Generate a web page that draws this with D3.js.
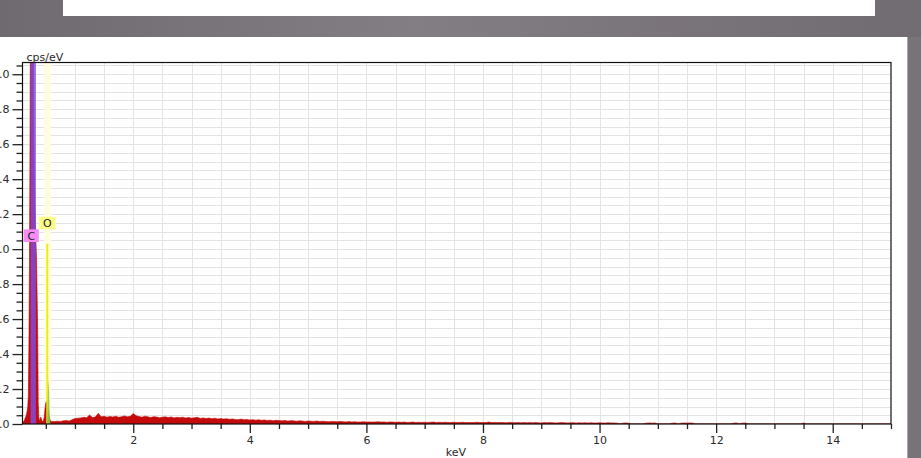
<!DOCTYPE html>
<html>
<head>
<meta charset="utf-8">
<script src="https://cdn.jsdelivr.net/npm/d3@7"></script>
<style>
  html, body { margin: 0; padding: 0; background: #777278; overflow: hidden; }
  svg { display: block; font-family: "DejaVu Sans", sans-serif; }
</style>
</head>
<body>
<svg id="chart" width="921" height="458"></svg>
<script>
// ---- Spectrum data (cps/eV) ----
// Low-energy channels around the C and O peaks, 0.01 keV apart, starting at 0.10 keV
const lowStartKeV = 0.10;
const lowStepKeV = 0.01;
const lowEnergyCounts = [
  0.010, 0.012, 0.015, 0.020, 0.028, 0.038, 0.045, 0.058, 0.075, 0.100,
  0.160, 0.450, 0.950, 1.700, 2.800, 4.200, 5.100, 4.800, 3.200, 1.900,
  1.550, 1.300, 1.150, 1.050, 0.950, 0.750, 0.550, 0.120, 0.040, 0.020,
  0.025, 0.040, 0.035, 0.020, 0.015, 0.016, 0.022, 0.035, 0.065, 0.100,
  0.122, 0.128, 0.118, 0.098, 0.078, 0.058, 0.040, 0.026, 0.018, 0.015
];

// Continuum channels, 0.05 keV apart, starting at 0.60 keV
const contStartKeV = 0.60;
const contStepKeV = 0.05;
const continuumCounts = [
  0.015, 0.014, 0.016, 0.015, 0.018, 0.020, 0.017, 0.024, 0.031, 0.033,
  0.035, 0.038, 0.036, 0.051, 0.037, 0.040, 0.061, 0.041, 0.044, 0.039,
  0.043, 0.040, 0.045, 0.038, 0.042, 0.046, 0.041, 0.044, 0.060, 0.047,
  0.043, 0.039, 0.045, 0.041, 0.037, 0.042, 0.040, 0.036, 0.039, 0.041,
  0.037, 0.040, 0.035, 0.038, 0.036, 0.039, 0.034, 0.037, 0.033, 0.036,
  0.038, 0.032, 0.035, 0.031, 0.034, 0.030, 0.033, 0.029, 0.031, 0.028,
  0.030, 0.027, 0.029, 0.026, 0.025, 0.028, 0.024, 0.026, 0.023, 0.025,
  0.022, 0.024, 0.021, 0.023, 0.020, 0.022, 0.019, 0.021, 0.020, 0.018,
  0.020, 0.017, 0.019, 0.018, 0.016, 0.018, 0.017, 0.015, 0.017, 0.016,
  0.015, 0.017, 0.014, 0.016, 0.015, 0.013, 0.015, 0.014, 0.013, 0.015,
  0.013, 0.012, 0.014, 0.012, 0.013, 0.011, 0.012, 0.013, 0.011, 0.012,
  0.011, 0.012, 0.013, 0.011, 0.012, 0.010, 0.012, 0.011, 0.010, 0.011,
  0.010, 0.011, 0.009, 0.010, 0.011, 0.009, 0.010, 0.009, 0.010, 0.009,
  0.010, 0.011, 0.009, 0.010, 0.009, 0.010, 0.009, 0.008, 0.010, 0.009,
  0.009, 0.010, 0.008, 0.009, 0.008, 0.009, 0.010, 0.008, 0.009, 0.008,
  0.011, 0.008, 0.009, 0.008, 0.009, 0.008, 0.007, 0.009, 0.008, 0.007,
  0.008, 0.007, 0.008, 0.007, 0.008, 0.007, 0.008, 0.007, 0.006, 0.008,
  0.007, 0.008, 0.007, 0.006, 0.007, 0.008, 0.007, 0.006, 0.007, 0.007,
  0.006, 0.007, 0.006, 0.007, 0.006, 0.007, 0.006, 0.006, 0.007, 0.006,
  0.006, 0.007, 0.006, 0.006, 0.005, 0.000, 0.005, 0.006, 0.005, 0.000,
  0.000, 0.000, 0.000, 0.000, 0.005, 0.006, 0.005, 0.006, 0.000, 0.000,
  0.000, 0.000, 0.000, 0.005, 0.006, 0.000, 0.005, 0.006, 0.005, 0.006,
  0.005, 0.000, 0.000, 0.000, 0.000, 0.000, 0.000, 0.000, 0.000, 0.000,
  0.000, 0.000, 0.000, 0.000, 0.005, 0.006, 0.000, 0.005, 0.006, 0.000,
  0.000, 0.000, 0.000, 0.000, 0.000, 0.000, 0.000, 0.000, 0.000, 0.000,
  0.000, 0.000, 0.000, 0.000, 0.000, 0.000, 0.000, 0.000, 0.006, 0.000,
  0.000, 0.000, 0.000, 0.000, 0.000, 0.000, 0.000, 0.000, 0.000, 0.000,
  0.000, 0.000, 0.000, 0.000, 0.000, 0.000, 0.000, 0.000, 0.000, 0.000,
  0.000, 0.000, 0.000, 0.000, 0.000, 0.000, 0.000, 0.000, 0.000
];

// O K-alpha fitted profile, 0.01 keV apart, starting at 0.51 keV
const oFitStartKeV = 0.51;
const oFitCounts = [0.000, 0.020, 0.100, 0.200, 0.255, 0.120, 0.030, 0.000];

// Identified element lines
const elementSymbols = ["C", "O"];
const elementEnergies = [0.277, 0.525];      // keV
const elementLineHeights = [5.1, 1.03];      // cps/eV
const elementLabelLevels = [1.113, 1.185];   // cps/eV, top edge of each tag

// Axis ticks
const xMajorTicks = [2, 4, 6, 8, 10, 12, 14];
const yMajorTicks = [0, 0.2, 0.4, 0.6, 0.8, 1.0, 1.2, 1.4, 1.6, 1.8, 2.0];
const xDomain = [0.1, 15];
const yDomain = [0, 2.07];

// ---- Layout ----
const W = 921, H = 458;
const plot = { left: 22.5, right: 891, top: 62, bottom: 424 };

const svg = d3.select("#chart");

// Window chrome around the chart panel
const defs = svg.append("defs");
const grad = defs.append("linearGradient").attr("id", "bandGrad")
  .attr("x1", "0").attr("x2", "1").attr("y1", "0").attr("y2", "0");
grad.append("stop").attr("offset", "0").attr("stop-color", "#6f6a70");
grad.append("stop").attr("offset", "0.45").attr("stop-color", "#837e83");
grad.append("stop").attr("offset", "1").attr("stop-color", "#716b72");

svg.append("rect").attr("x", 0).attr("y", 0).attr("width", W).attr("height", H).attr("fill", "#787379");
svg.append("rect").attr("x", 0).attr("y", 0).attr("width", W).attr("height", 37).attr("fill", "url(#bandGrad)");
svg.append("rect").attr("x", 63).attr("y", 0).attr("width", 812).attr("height", 16).attr("fill", "#ffffff");
svg.append("rect").attr("x", 0).attr("y", 37).attr("width", 907).attr("height", H - 37).attr("fill", "#ffffff");
svg.append("line").attr("x1", 907.5).attr("x2", 907.5).attr("y1", 37).attr("y2", H)
  .attr("stroke", "#a9a5a9").attr("stroke-width", 1);

// ---- Scales ----
const x = d3.scaleLinear().domain(xDomain).range([plot.left, plot.right]);
const y = d3.scaleLinear().domain(yDomain).range([plot.bottom, plot.top]);

defs.append("clipPath").attr("id", "plotClip")
  .append("rect")
  .attr("x", plot.left).attr("y", plot.top)
  .attr("width", plot.right - plot.left).attr("height", plot.bottom - plot.top);

// ---- Grid ----
const grid = svg.append("g").attr("shape-rendering", "crispEdges");
const xGrid = d3.range(0.5, 15, 0.5);
const yGrid = d3.range(0.05, 2.07, 0.05);
grid.selectAll("line.v").data(xGrid).join("line")
  .attr("x1", d => Math.round(x(d)) + 0.5).attr("x2", d => Math.round(x(d)) + 0.5)
  .attr("y1", plot.top).attr("y2", plot.bottom)
  .attr("stroke", "#e3e3e3");
grid.selectAll("line.h").data(yGrid).join("line")
  .attr("x1", plot.left).attr("x2", plot.right)
  .attr("y1", d => Math.round(y(d)) + 0.5).attr("y2", d => Math.round(y(d)) + 0.5)
  .attr("stroke", "#e3e3e3");

const plotG = svg.append("g").attr("clip-path", "url(#plotClip)");

// Element highlight bands behind the spectrum
const oBandWidth = 6.7;
plotG.append("rect")
  .attr("x", x(elementEnergies[1]) - oBandWidth / 2 + 0.3).attr("width", oBandWidth)
  .attr("y", plot.top).attr("height", plot.bottom - plot.top)
  .attr("fill", "#fffde0");

// ---- Spectrum ----
const spectrum = [];
lowEnergyCounts.forEach((c, i) => spectrum.push({ e: lowStartKeV + i * lowStepKeV, c }));
continuumCounts.forEach((c, i) => spectrum.push({ e: contStartKeV + i * contStepKeV, c }));

const area = d3.area()
  .x(d => x(d.e))
  .y0(y(0))
  .y1(d => y(d.c));

plotG.append("path")
  .datum(spectrum)
  .attr("d", area)
  .attr("fill", "#c40a0a")
  .attr("stroke", "#c40a0a")
  .attr("stroke-width", 0.6);

// C line band (semi-transparent violet over the spectrum)
const cBandWidth = 5.4;
plotG.append("rect")
  .attr("x", x(elementEnergies[0]) - cBandWidth / 2 + 0.4).attr("width", cBandWidth)
  .attr("y", y(Math.min(elementLineHeights[0], yDomain[1])))
  .attr("height", y(0) - y(Math.min(elementLineHeights[0], yDomain[1])))
  .attr("fill", "rgb(127,78,224)").attr("fill-opacity", 0.82);

// O line
plotG.append("rect")
  .attr("x", x(elementEnergies[1]) - 1).attr("width", 2)
  .attr("y", y(elementLineHeights[1])).attr("height", y(0) - y(elementLineHeights[1]))
  .attr("fill", "#ecec10");

// O fitted profile
const oFit = oFitCounts.map((c, i) => ({ e: oFitStartKeV + i * lowStepKeV, c }));
plotG.append("path")
  .datum(oFit)
  .attr("d", area)
  .attr("fill", "#8cc850").attr("fill-opacity", 0.9);

// ---- Element tags ----
const tagColors = ["#f58cf5", "#fcfc88"];
const tagWidths = [15, 16.7];
const tagOffsets = [-1.5, 0];
const tagH = 12.6;
elementSymbols.forEach((sym, i) => {
  const cx = x(elementEnergies[i]) + tagOffsets[i];
  const top = y(elementLabelLevels[i]);
  const g = svg.append("g");
  g.append("rect")
    .attr("x", cx - tagWidths[i] / 2).attr("y", top)
    .attr("width", tagWidths[i]).attr("height", tagH)
    .attr("fill", tagColors[i]);
  g.append("text")
    .attr("x", cx).attr("y", top + tagH / 2)
    .attr("dy", "0.36em")
    .attr("text-anchor", "middle")
    .attr("font-size", 11)
    .attr("fill", "#222")
    .text(sym);
});

// ---- Axes ----
const axisColor = "#222";

const xAxisMinor = d3.axisBottom(x)
  .tickValues(d3.range(0.5, 15.01, 0.5).filter(v => !xMajorTicks.includes(v)))
  .tickSize(5).tickFormat("");
const xAxisMajor = d3.axisBottom(x)
  .tickValues(xMajorTicks).tickSize(9).tickPadding(3)
  .tickFormat(d3.format("d"));

const gxMinor = svg.append("g").attr("transform", `translate(0,${plot.bottom})`).call(xAxisMinor);
const gxMajor = svg.append("g").attr("transform", `translate(0,${plot.bottom})`).call(xAxisMajor);

const yAxisMinor = d3.axisLeft(y)
  .tickValues(d3.range(0.05, 2.07, 0.05).filter(v => Math.abs(v * 5 - Math.round(v * 5)) > 1e-6))
  .tickSize(6).tickFormat("");
const yAxisMajor = d3.axisLeft(y)
  .tickValues(yMajorTicks).tickSize(10).tickPadding(3)
  .tickFormat(d3.format(".1f"));

const gyMinor = svg.append("g").attr("transform", `translate(${plot.left},0)`).call(yAxisMinor);
const gyMajor = svg.append("g").attr("transform", `translate(${plot.left},0)`).call(yAxisMajor);

[gxMinor, gxMajor, gyMinor, gyMajor].forEach(g => {
  g.select(".domain").remove();
  g.selectAll(".tick line").attr("stroke", axisColor).attr("stroke-width", 1.3);
  g.selectAll(".tick text")
    .attr("font-family", "DejaVu Sans, sans-serif")
    .attr("font-size", 11)
    .attr("fill", "#2a2a2a");
});

// Plot frame
svg.append("rect")
  .attr("x", plot.left).attr("y", plot.top + 0.5)
  .attr("width", plot.right - plot.left).attr("height", plot.bottom - plot.top - 0.5)
  .attr("fill", "none").attr("stroke", "#111").attr("stroke-width", 1.2);

// Axis titles
svg.append("text")
  .attr("x", 26.5).attr("y", 60.5)
  .attr("font-size", 11).attr("fill", "#2a2a2a")
  .text("cps/eV");
svg.append("text")
  .attr("x", 456).attr("y", 456)
  .attr("text-anchor", "middle")
  .attr("font-size", 11).attr("fill", "#2a2a2a")
  .text("keV");
</script>
</body>
</html>
